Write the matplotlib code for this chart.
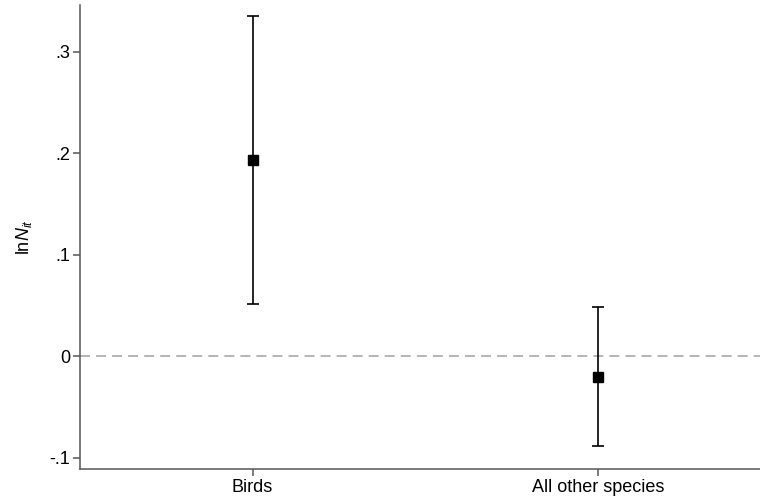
import matplotlib
matplotlib.use("Agg")
import matplotlib.pyplot as plt

# Point estimates and confidence bounds per group
groups = ["Birds", "All other species"]
estimates = [0.193, -0.020]
ci_lower = [0.0514, -0.088]
ci_upper = [0.335, 0.048]

yticks = [-0.1, 0.0, 0.1, 0.2, 0.3]
yticklabels = ["-.1", "0", ".1", ".2", ".3"]

plt.rcParams["font.family"] = ["Liberation Sans", "DejaVu Sans"]
plt.rcParams["mathtext.fontset"] = "custom"
plt.rcParams["mathtext.rm"] = "Liberation Sans"
plt.rcParams["mathtext.it"] = "Liberation Sans:italic"

fig = plt.figure(figsize=(7.6, 5), dpi=100)
ax = fig.add_axes([80 / 760, 1 - 469.3 / 500, 1 - 80 / 760, (469.3 - 5) / 500])

x = [1, 2]
err_low = [e - lo for e, lo in zip(estimates, ci_lower)]
err_high = [hi - e for e, hi in zip(estimates, ci_upper)]

ax.axhline(0, color="#a0a0a0", linestyle=(0, (6.5, 4)), linewidth=1.1, zorder=1)
ax.errorbar(x, estimates, yerr=[err_low, err_high], fmt="s", color="black",
            markersize=7, elinewidth=1.2, capsize=4.5, capthick=1.2, zorder=3)

ax.set_xlim(0.5, 2.47)
ax.set_ylim(-0.1114, 0.346)
ax.set_xticks(x)
ax.set_xticklabels(groups, fontsize=13)
ax.set_yticks(yticks)
ax.set_yticklabels(yticklabels, fontsize=13)
ax.set_ylabel(r"ln$\mathit{N}_{\mathit{it}}$", fontsize=13, labelpad=11)

for side in ["top", "right"]:
    ax.spines[side].set_visible(False)
for side in ["left", "bottom"]:
    ax.spines[side].set_color("#555555")
    ax.spines[side].set_linewidth(1.1)
ax.tick_params(axis="both", color="#555555", width=1.1, length=5, pad=2)

fig.savefig("out.png", dpi=100)
